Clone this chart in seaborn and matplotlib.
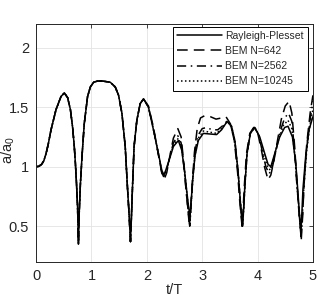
import numpy as np
import pandas as pd
import seaborn as sns
import matplotlib.pyplot as plt

########## Data

# part shared by all four curves (t/T < 1.94)
t_shared = [0.00, 0.05, 0.10, 0.14, 0.18, 0.22, 0.27, 0.36, 0.45, 0.51, 0.57, 0.62, 0.66, 0.69, 0.71,
            0.73, 0.75, 0.765, 0.78, 0.80, 0.83, 0.87, 0.93, 0.98, 1.04, 1.11, 1.20, 1.34, 1.43, 1.49,
            1.55, 1.61, 1.65, 1.68, 1.705, 1.72, 1.74, 1.77, 1.82, 1.88]
a_shared = [1.00, 1.003, 1.02, 1.05, 1.11, 1.19, 1.31, 1.48, 1.59, 1.62, 1.58, 1.48, 1.33, 1.17, 1.03,
            0.86, 0.65, 0.35, 0.62, 0.85, 1.09, 1.36, 1.59, 1.67, 1.71, 1.72, 1.72, 1.71, 1.67, 1.60,
            1.45, 1.17, 0.83, 0.60, 0.37, 0.55, 0.81, 1.17, 1.39, 1.53]

# Rayleigh-Plesset
t_rp = [1.94, 2.03, 2.12, 2.21, 2.27, 2.31, 2.35, 2.42, 2.48, 2.57, 2.63, 2.68, 2.72, 2.75, 2.78,
        2.80, 2.83, 2.87, 2.93, 3.02, 3.14, 3.26, 3.35, 3.45, 3.53, 3.59, 3.65, 3.69, 3.71, 3.73,
        3.75, 3.77, 3.81, 3.87, 3.95, 4.04, 4.13, 4.19, 4.24, 4.31, 4.40, 4.49, 4.55, 4.63, 4.69,
        4.73, 4.76, 4.785, 4.80, 4.82, 4.87, 4.93, 5.00]
a_rp = [1.57, 1.50, 1.31, 1.11, 0.97, 0.93, 0.98, 1.08, 1.17, 1.22, 1.14, 0.97, 0.80, 0.68, 0.58,
        0.70, 0.90, 1.09, 1.22, 1.28, 1.275, 1.27, 1.31, 1.38, 1.34, 1.22, 0.95, 0.70, 0.58, 0.50,
        0.65, 0.83, 1.11, 1.28, 1.33, 1.25, 1.11, 1.02, 1.00, 1.11, 1.25, 1.33, 1.34, 1.25, 1.03,
        0.78, 0.58, 0.46, 0.60, 0.81, 1.09, 1.31, 1.42]

# BEM N=642
t_642 = [1.94, 2.03, 2.12, 2.21, 2.27, 2.32, 2.36, 2.42, 2.48, 2.56, 2.62, 2.67, 2.71, 2.74, 2.77,
         2.79, 2.82, 2.86, 2.91, 2.97, 3.05, 3.15, 3.25, 3.35, 3.43, 3.51, 3.58, 3.64, 3.68, 3.72,
         3.74, 3.76, 3.80, 3.86, 3.93, 4.00, 4.07, 4.13, 4.19, 4.24, 4.30, 4.36, 4.43, 4.50, 4.57,
         4.62, 4.67, 4.71, 4.75, 4.79, 4.81, 4.84, 4.89, 4.95, 5.00]
a_642 = [1.57, 1.51, 1.33, 1.10, 0.95, 0.90, 0.95, 1.10, 1.24, 1.32, 1.25, 1.02, 0.80, 0.65, 0.50,
         0.65, 0.85, 1.12, 1.32, 1.41, 1.43, 1.42, 1.40, 1.41, 1.42, 1.36, 1.22, 0.95, 0.70, 0.50,
         0.65, 0.83, 1.11, 1.28, 1.33, 1.29, 1.14, 0.99, 0.89, 0.93, 1.06, 1.22, 1.40, 1.51, 1.55,
         1.45, 1.17, 0.88, 0.60, 0.39, 0.55, 0.85, 1.20, 1.45, 1.60]

# BEM N=2562
t_2562 = [1.94, 2.03, 2.12, 2.21, 2.27, 2.31, 2.35, 2.42, 2.48, 2.56, 2.62, 2.67, 2.71, 2.74, 2.775,
          2.80, 2.83, 2.87, 2.92, 3.00, 3.08, 3.18, 3.28, 3.36, 3.44, 3.52, 3.59, 3.65, 3.69, 3.725,
          3.75, 3.77, 3.81, 3.87, 3.94, 4.02, 4.09, 4.15, 4.21, 4.27, 4.34, 4.41, 4.49, 4.56, 4.62,
          4.67, 4.71, 4.75, 4.785, 4.81, 4.84, 4.89, 4.95, 5.00]
a_2562 = [1.57, 1.50, 1.32, 1.10, 0.95, 0.91, 0.96, 1.09, 1.20, 1.26, 1.20, 1.00, 0.80, 0.66, 0.50,
          0.67, 0.90, 1.12, 1.26, 1.32, 1.33, 1.31, 1.31, 1.34, 1.38, 1.34, 1.21, 0.95, 0.70, 0.50,
          0.66, 0.84, 1.11, 1.28, 1.33, 1.27, 1.12, 1.00, 0.94, 1.00, 1.15, 1.30, 1.41, 1.45, 1.38,
          1.12, 0.85, 0.62, 0.41, 0.58, 0.86, 1.18, 1.40, 1.55]

# BEM N=10245
t_10245 = [1.94, 2.03, 2.12, 2.21, 2.27, 2.31, 2.35, 2.42, 2.48, 2.57, 2.63, 2.68, 2.72, 2.75, 2.78,
           2.80, 2.83, 2.87, 2.93, 3.02, 3.14, 3.26, 3.35, 3.45, 3.53, 3.59, 3.65, 3.69, 3.73, 3.75,
           3.77, 3.81, 3.87, 3.95, 4.03, 4.11, 4.17, 4.23, 4.30, 4.38, 4.47, 4.55, 4.62, 4.68, 4.72,
           4.76, 4.785, 4.81, 4.84, 4.89, 4.95, 5.00]
a_10245 = [1.57, 1.50, 1.31, 1.11, 0.96, 0.92, 0.97, 1.08, 1.18, 1.24, 1.16, 0.98, 0.79, 0.66, 0.52,
           0.68, 0.90, 1.10, 1.24, 1.30, 1.29, 1.28, 1.32, 1.38, 1.34, 1.22, 0.95, 0.70, 0.50, 0.65,
           0.83, 1.11, 1.28, 1.33, 1.26, 1.11, 1.01, 0.97, 1.08, 1.23, 1.35, 1.39, 1.32, 1.07, 0.80,
           0.58, 0.43, 0.60, 0.86, 1.15, 1.36, 1.48]

labels = ["Rayleigh-Plesset", "BEM N=642", "BEM N=2562", "BEM N=10245"]
styles = ["-", (0, (7, 4)), (0, (6, 3, 1, 3)), (0, (1, 1.6))]
late   = [(t_rp, a_rp), (t_642, a_642), (t_2562, a_2562), (t_10245, a_10245)]

########## Plotting

sns.set_style("whitegrid")
plt.rcParams['font.family']      = ['Liberation Sans', 'DejaVu Sans']
plt.rcParams['mathtext.fontset'] = 'custom'
plt.rcParams['mathtext.rm']      = 'Liberation Sans'
plt.rcParams['mathtext.it']      = 'Liberation Sans'
plt.rcParams['mathtext.default'] = 'regular'

fig = plt.figure(figsize = (3.28, 3.07), dpi = 100)
ax  = fig.add_axes([0.110, 0.147, 0.844, 0.775])

for label, ls, (t_late, a_late) in zip(labels, styles, late):
    df = pd.DataFrame({"t": t_shared + t_late, "a": a_shared + a_late})
    sns.lineplot(data = df, x = "t", y = "a", ax = ax, color = "black", linestyle = ls,
                 linewidth = 1.1, label = label, sort = False, errorbar = None)

ax.set_xlim(0, 5)
ax.set_ylim(0.2, 2.2)
ax.set_xticks([0, 1, 2, 3, 4, 5])
ax.set_yticks([0.5, 1, 1.5, 2])
ax.set_yticklabels(["0.5", "1", "1.5", "2"])
ax.set_xlabel("t/T", fontsize = 10.5, color = "#262626", labelpad = 0)
ax.set_ylabel("a/a$_0$", fontsize = 10.5, color = "#262626")
ax.yaxis.set_label_coords(-0.068, 0.47)
ax.tick_params(axis = 'both', direction = 'in', length = 3, width = 0.6, labelsize = 10.5,
               colors = "#262626", top = True, right = True, pad = 5)
ax.grid(True, color = "#e3e3e3", linewidth = 0.6)
for spine in ax.spines.values():
    spine.set_color("#262626")
    spine.set_linewidth(0.7)

leg = ax.legend(loc = "upper right", bbox_to_anchor = (0.982, 0.989), fontsize = 7.5,
                handlelength = 4.3, handletextpad = 0.3, labelspacing = 0.5, borderpad = 0.4,
                borderaxespad = 0, fancybox = False, framealpha = 1, edgecolor = "black")
leg.get_frame().set_linewidth(0.7)

plt.savefig("out.png", dpi = 100)
